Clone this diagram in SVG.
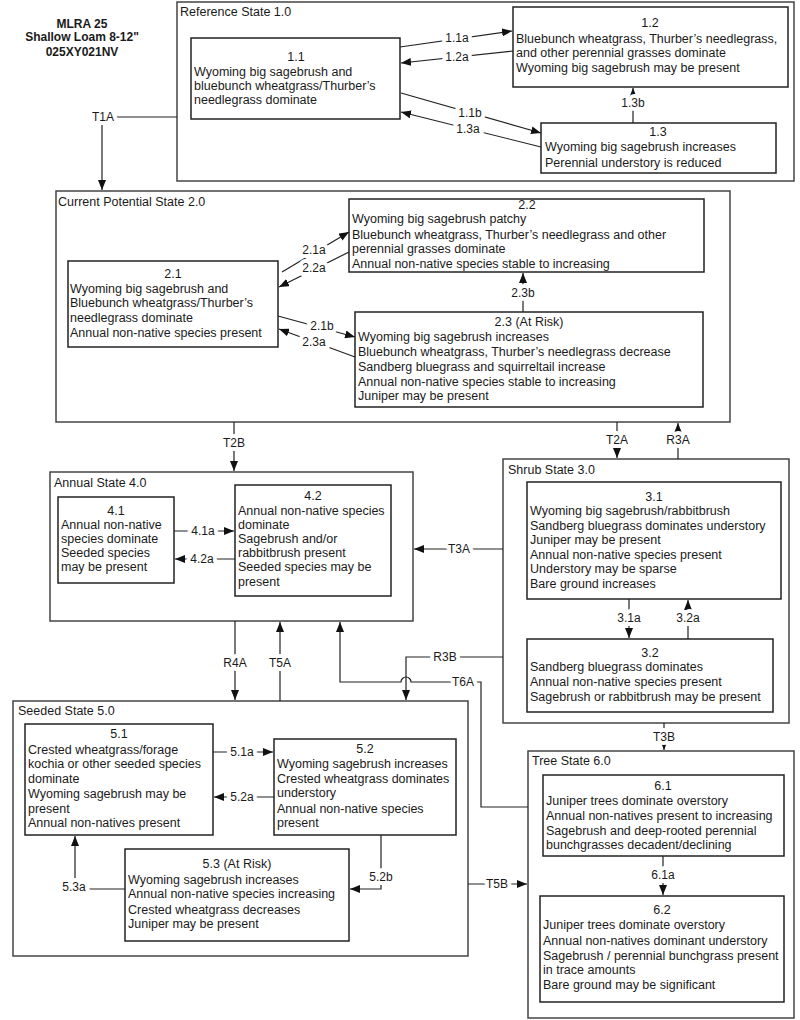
<svg xmlns="http://www.w3.org/2000/svg" width="800" height="1020" viewBox="0 0 800 1020">
<defs>
<style>
text{font-family:"Liberation Sans",Arial,sans-serif;fill:#1a1a1a}
.t{font-size:12.5px}
.c{font-size:12.5px;text-anchor:middle}
.h{font-size:12px;font-weight:bold;text-anchor:middle}
.s{font-size:12.5px}
.lb{font-size:12px;text-anchor:middle;dominant-baseline:central;stroke:#fff;stroke-width:8px;paint-order:stroke;stroke-linejoin:round}
.state{fill:#fff;stroke:#444;stroke-width:1.5}
.node{fill:#fff;stroke:#222;stroke-width:1.5}
.cn{fill:none;stroke:#222;stroke-width:1.2}
</style>
<marker id="a" markerUnits="userSpaceOnUse" markerWidth="10" markerHeight="8" refX="10" refY="4" orient="auto">
<path d="M0,0 L10,4 L0,8 z" fill="#111"/>
</marker>
</defs>
<rect width="800" height="1020" fill="#fff"/>

<g id="title">
<text class="h" x="82" y="28">MLRA 25</text>
<text class="h" x="82" y="41">Shallow Loam 8-12"</text>
<text class="h" x="82" y="56">025XY021NV</text>
</g>

<g id="state1">
<rect class="state" x="177" y="2" width="617" height="179"/>
<text class="s" x="180" y="16">Reference State 1.0</text>
</g>
<g id="state2">
<rect class="state" x="56" y="191" width="674" height="231"/>
<text class="s" x="58" y="206">Current Potential State 2.0</text>
</g>
<g id="state4">
<rect class="state" x="50" y="472" width="363" height="149"/>
<text class="s" x="54" y="487">Annual State 4.0</text>
</g>
<g id="state3">
<rect class="state" x="503" y="459" width="286" height="264"/>
<text class="s" x="508" y="474">Shrub State 3.0</text>
</g>
<g id="state5">
<rect class="state" x="13" y="701" width="455" height="255"/>
<text class="s" x="18" y="715">Seeded State 5.0</text>
</g>
<g id="state6">
<rect class="state" x="528" y="751" width="266" height="267"/>
<text class="s" x="532" y="765">Tree State 6.0</text>
</g>

<g id="n1_1">
<rect class="node" x="191" y="38" width="209" height="81"/>
<text class="c" x="296" y="61">1.1</text>
<text class="t" x="194" y="76">Wyoming big sagebrush and</text>
<text class="t" x="194" y="90">bluebunch wheatgrass/Thurber’s</text>
<text class="t" x="194" y="104">needlegrass dominate</text>
</g>
<g id="n1_2">
<rect class="node" x="513" y="7" width="275" height="80"/>
<text class="c" x="650" y="27">1.2</text>
<text class="t" x="516" y="43">Bluebunch wheatgrass, Thurber’s needlegrass,</text>
<text class="t" x="516" y="57">and other perennial grasses dominate</text>
<text class="t" x="516" y="72">Wyoming big sagebrush may be present</text>
</g>
<g id="n1_3">
<rect class="node" x="541" y="123" width="235" height="50"/>
<text class="c" x="658" y="136">1.3</text>
<text class="t" x="545" y="151">Wyoming big sagebrush increases</text>
<text class="t" x="545" y="167">Perennial understory is reduced</text>
</g>

<g id="n2_1">
<rect class="node" x="68" y="261" width="210" height="86"/>
<text class="c" x="173" y="278">2.1</text>
<text class="t" x="70" y="293">Wyoming big sagebrush and</text>
<text class="t" x="70" y="307">Bluebunch wheatgrass/Thurber’s</text>
<text class="t" x="70" y="322">needlegrass dominate</text>
<text class="t" x="70" y="337">Annual non-native species present</text>
</g>
<g id="n2_2">
<rect class="node" x="349" y="199" width="355" height="73"/>
<text class="c" x="527" y="209">2.2</text>
<text class="t" x="352" y="223">Wyoming big sagebrush patchy</text>
<text class="t" x="352" y="239">Bluebunch wheatgrass, Thurber’s needlegrass and other</text>
<text class="t" x="352" y="253">perennial grasses dominate</text>
<text class="t" x="352" y="268">Annual non-native species stable to increasing</text>
</g>
<g id="n2_3">
<rect class="node" x="355" y="312" width="348" height="95"/>
<text class="c" x="529" y="326">2.3 (At Risk)</text>
<text class="t" x="358" y="341">Wyoming big sagebrush increases</text>
<text class="t" x="358" y="356">Bluebunch wheatgrass, Thurber’s needlegrass decrease</text>
<text class="t" x="358" y="371">Sandberg bluegrass and squirreltail increase</text>
<text class="t" x="358" y="386">Annual non-native species stable to increasing</text>
<text class="t" x="358" y="400">Juniper may be present</text>
</g>

<g id="n4_1">
<rect class="node" x="58" y="497" width="116" height="86"/>
<text class="c" x="116" y="515">4.1</text>
<text class="t" x="61" y="529">Annual non-native</text>
<text class="t" x="61" y="543">species dominate</text>
<text class="t" x="61" y="557">Seeded species</text>
<text class="t" x="61" y="571">may be present</text>
</g>
<g id="n4_2">
<rect class="node" x="235" y="485" width="156" height="111"/>
<text class="c" x="313" y="500">4.2</text>
<text class="t" x="238" y="515">Annual non-native species</text>
<text class="t" x="238" y="529">dominate</text>
<text class="t" x="238" y="543">Sagebrush and/or</text>
<text class="t" x="238" y="557">rabbitbrush present</text>
<text class="t" x="238" y="571">Seeded species may be</text>
<text class="t" x="238" y="586">present</text>
</g>

<g id="n3_1">
<rect class="node" x="527" y="482" width="254" height="117"/>
<text class="c" x="654" y="501">3.1</text>
<text class="t" x="530" y="515">Wyoming big sagebrush/rabbitbrush</text>
<text class="t" x="530" y="529.5">Sandberg bluegrass dominates understory</text>
<text class="t" x="530" y="544">Juniper may be present</text>
<text class="t" x="530" y="558.5">Annual non-native species present</text>
<text class="t" x="530" y="573">Understory may be sparse</text>
<text class="t" x="530" y="587.5">Bare ground increases</text>
</g>
<g id="n3_2">
<rect class="node" x="527" y="639" width="246" height="73"/>
<text class="c" x="650" y="657">3.2</text>
<text class="t" x="530" y="671">Sandberg bluegrass dominates</text>
<text class="t" x="530" y="686">Annual non-native species present</text>
<text class="t" x="530" y="701">Sagebrush or rabbitbrush may be present</text>
</g>

<g id="n5_1">
<rect class="node" x="25" y="724" width="188" height="111"/>
<text class="c" x="119" y="738">5.1</text>
<text class="t" x="28" y="754">Crested wheatgrass/forage</text>
<text class="t" x="28" y="768">kochia or other seeded species</text>
<text class="t" x="28" y="783">dominate</text>
<text class="t" x="28" y="798">Wyoming sagebrush may be</text>
<text class="t" x="28" y="813">present</text>
<text class="t" x="28" y="827">Annual non-natives present</text>
</g>
<g id="n5_2">
<rect class="node" x="274" y="739" width="182" height="96"/>
<text class="c" x="365" y="753">5.2</text>
<text class="t" x="277" y="768">Wyoming sagebrush increases</text>
<text class="t" x="277" y="783">Crested wheatgrass dominates</text>
<text class="t" x="277" y="797">understory</text>
<text class="t" x="277" y="813">Annual non-native species</text>
<text class="t" x="277" y="827">present</text>
</g>
<g id="n5_3">
<rect class="node" x="125" y="849" width="224" height="92"/>
<text class="c" x="237" y="868">5.3 (At Risk)</text>
<text class="t" x="128" y="884">Wyoming sagebrush increases</text>
<text class="t" x="128" y="898">Annual non-native species increasing</text>
<text class="t" x="128" y="914">Crested wheatgrass decreases</text>
<text class="t" x="128" y="928">Juniper may be present</text>
</g>

<g id="n6_1">
<rect class="node" x="543" y="775" width="241" height="81"/>
<text class="c" x="663" y="790">6.1</text>
<text class="t" x="546" y="805">Juniper trees dominate overstory</text>
<text class="t" x="546" y="820">Annual non-natives present to increasing</text>
<text class="t" x="546" y="835">Sagebrush and deep-rooted perennial</text>
<text class="t" x="546" y="849">bunchgrasses decadent/declining</text>
</g>
<g id="n6_2">
<rect class="node" x="540" y="896" width="244" height="106"/>
<text class="c" x="662" y="914">6.2</text>
<text class="t" x="543" y="929">Juniper trees dominate overstory</text>
<text class="t" x="543" y="945">Annual non-natives dominant understory</text>
<text class="t" x="543" y="960">Sagebrush / perennial bunchgrass present</text>
<text class="t" x="543" y="974">in trace amounts</text>
<text class="t" x="543" y="989">Bare ground may be significant</text>
</g>

<g id="connectors">
<path class="cn" d="M400,47 L512,31" marker-end="url(#a)"/>
<path class="cn" d="M513,51 L401,63" marker-end="url(#a)"/>
<path class="cn" d="M401,93 L541,133" marker-end="url(#a)"/>
<path class="cn" d="M541,147 L401,112" marker-end="url(#a)"/>
<path class="cn" d="M633,123 V88" marker-end="url(#a)"/>
<path class="cn" d="M177,117 H102 V190" marker-end="url(#a)"/>

<path class="cn" d="M282,272 L349,232" marker-end="url(#a)"/>
<path class="cn" d="M349,252 L279,287" marker-end="url(#a)"/>
<path class="cn" d="M278,316 L355,337" marker-end="url(#a)"/>
<path class="cn" d="M355,357 L279,329" marker-end="url(#a)"/>
<path class="cn" d="M523,312 V273" marker-end="url(#a)"/>
<path class="cn" d="M234,422 V471" marker-end="url(#a)"/>
<path class="cn" d="M617,422 V458" marker-end="url(#a)"/>
<path class="cn" d="M678,459 V423" marker-end="url(#a)"/>

<path class="cn" d="M174,531 H234" marker-end="url(#a)"/>
<path class="cn" d="M235,559 H175" marker-end="url(#a)"/>
<path class="cn" d="M503,549 H414" marker-end="url(#a)"/>
<path class="cn" d="M629,599 V638" marker-end="url(#a)"/>
<path class="cn" d="M688,639 V600" marker-end="url(#a)"/>
<path class="cn" d="M235,621 V700" marker-end="url(#a)"/>
<path class="cn" d="M280,701 V622" marker-end="url(#a)"/>
<path class="cn" d="M503,657 H406 V700" marker-end="url(#a)"/>
<path class="cn" d="M528,807 H481 V682 H411 A5,5 0 0 0 401,682 H340 V622" marker-end="url(#a)"/>
<path class="cn" d="M664,723 V750" marker-end="url(#a)"/>

<path class="cn" d="M213,752 H273" marker-end="url(#a)"/>
<path class="cn" d="M274,797 H214" marker-end="url(#a)"/>
<path class="cn" d="M381,835 V889 H350" marker-end="url(#a)"/>
<path class="cn" d="M125,889 H75 V836" marker-end="url(#a)"/>
<path class="cn" d="M468,884 H527" marker-end="url(#a)"/>
<path class="cn" d="M663,856 V895" marker-end="url(#a)"/>

<text class="lb" x="457" y="38">1.1a</text>
<text class="lb" x="457" y="57">1.2a</text>
<text class="lb" x="470" y="113">1.1b</text>
<text class="lb" x="468" y="129">1.3a</text>
<text class="lb" x="633" y="103">1.3b</text>
<text class="lb" x="103" y="117">T1A</text>
<text class="lb" x="314" y="250">2.1a</text>
<text class="lb" x="314" y="268">2.2a</text>
<text class="lb" x="322" y="326">2.1b</text>
<text class="lb" x="314" y="342">2.3a</text>
<text class="lb" x="523" y="293">2.3b</text>
<text class="lb" x="234" y="443">T2B</text>
<text class="lb" x="617" y="440">T2A</text>
<text class="lb" x="678" y="440">R3A</text>
<text class="lb" x="203" y="531">4.1a</text>
<text class="lb" x="202" y="559">4.2a</text>
<text class="lb" x="459" y="549">T3A</text>
<text class="lb" x="629" y="618">3.1a</text>
<text class="lb" x="688" y="618">3.2a</text>
<text class="lb" x="235" y="663">R4A</text>
<text class="lb" x="280" y="663">T5A</text>
<text class="lb" x="445" y="657">R3B</text>
<text class="lb" x="463" y="682">T6A</text>
<text class="lb" x="664" y="737">T3B</text>
<text class="lb" x="242" y="752">5.1a</text>
<text class="lb" x="242" y="797">5.2a</text>
<text class="lb" x="381" y="877">5.2b</text>
<text class="lb" x="74" y="887">5.3a</text>
<text class="lb" x="497" y="884">T5B</text>
<text class="lb" x="663" y="875">6.1a</text>
</g>
</svg>
